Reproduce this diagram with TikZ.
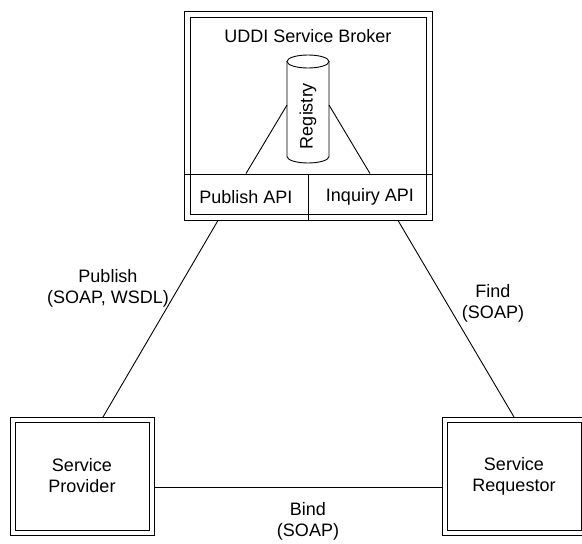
\documentclass[tikz,border=0pt]{standalone}
\usepackage{fontspec}
\setmainfont{Liberation Sans}
\usetikzlibrary{calc}
\begin{document}
\begin{tikzpicture}[x=1pt, y=-1pt, line width=0.9pt,
  every node/.style={font=\fontsize{18}{21}\selectfont, inner sep=0pt},
  dbox/.style={draw, outer sep=0pt},
  cell/.style={draw, minimum width=124pt, minimum height=46pt},
  lbl/.style={align=center}]
\useasboundingbox (0,0) rectangle (582,544);

% UDDI broker frame (double outline) with its two API cells
\node[dbox, minimum width=248pt, minimum height=209pt] (broker) at (308,115.5) {};
\draw ([xshift=6pt,yshift=-6pt]broker.north west) rectangle ([xshift=-6pt,yshift=6pt]broker.south east);
\node[anchor=base] (title) at (308,42) {UDDI Service Broker};
\node[cell] (pubapi) at (246,197) {Publish API};
\node[cell] (inqapi) at (370,197) {Inquiry API};

% registry cylinder
\draw[fill=white] (287,61.5) -- (287,156.5)
  arc[start angle=180, end angle=0, x radius=21, y radius=6.5] -- (329,61.5);
\draw[fill=white] (308,61.5) ellipse [x radius=21, y radius=6.5];
\node[rotate=90] (reg) at (308,116) {Registry};
\coordinate (regL) at (287,105);
\coordinate (regR) at (329,105);
\draw (regL) -- (pubapi.north);
\draw (regR) -- (inqapi.north);

% provider and requestor, each with a double outline
\node[dbox, minimum width=144pt, minimum height=118pt, lbl] (prov) at (82,476) {Service\\Provider};
\draw ([xshift=5pt,yshift=-5pt]prov.north west) rectangle ([xshift=-5pt,yshift=5pt]prov.south east);
\node[dbox, minimum width=144pt, minimum height=118pt, lbl] (req) at (514,476) {Service\\Requestor};
\draw ([xshift=5pt,yshift=-5pt]req.north west) rectangle ([xshift=-5pt,yshift=5pt]req.south east);

% connectors
\draw ([xshift=-28pt]pubapi.south) -- ([xshift=21pt]prov.north);
\draw ([xshift=28pt]inqapi.south) -- (req.north);
\draw ([yshift=-11pt]prov.east) -- ([yshift=-11pt]req.west);

% connector labels
\node[lbl] (lpub) at (108,288) {Publish\\(SOAP, WSDL)};
\node[lbl] (lfind) at (493,303) {Find\\(SOAP)};
\node[lbl] (lbind) at (308,521) {Bind\\(SOAP)};
\end{tikzpicture}
\end{document}
